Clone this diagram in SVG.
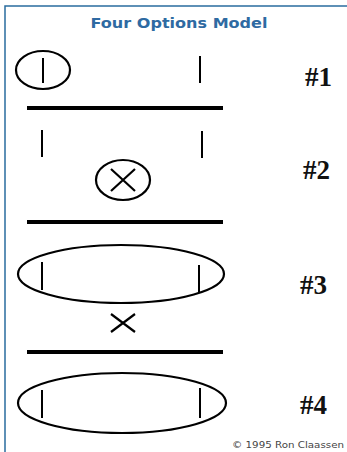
<svg xmlns="http://www.w3.org/2000/svg" width="347" height="452" viewBox="0 0 347 452">
<style>
.frame{stroke:#2a6c9e;stroke-width:1.5;fill:none}
.sh{stroke:#000;stroke-width:2.2;fill:none}
.bar{stroke:#000;stroke-width:4;fill:none}
.tick{stroke:#000;stroke-width:2}
.num{font-family:"Liberation Serif",serif;font-weight:bold;font-size:27px;fill:#111}
</style>
<rect width="347" height="452" fill="#fff"/>
<g id="frame">
<path class="frame" d="M5,452 V6 H347"/>
</g>
<text id="title" x="179" y="28" text-anchor="middle" font-family="DejaVu Sans, sans-serif" font-weight="bold" font-size="14.5" fill="#2e6aa2" textLength="177" lengthAdjust="spacingAndGlyphs">Four Options Model</text>
<g id="option1">
<ellipse class="sh" cx="43" cy="70" rx="27" ry="19"/>
<line class="tick" x1="43" y1="58" x2="43" y2="83"/>
<line class="tick" x1="200" y1="56" x2="200" y2="83"/>
<text class="num" x="305" y="86">#1</text>
</g>
<g id="option2">
<line class="tick" x1="42" y1="130" x2="42" y2="157"/>
<line class="tick" x1="202" y1="131" x2="202" y2="158"/>
<ellipse class="sh" cx="123" cy="180" rx="27" ry="20"/>
<path class="sh" d="M111,169 L135,191 M135,169 L111,191"/>
<text class="num" x="303" y="179">#2</text>
</g>
<g id="option3">
<ellipse class="sh" cx="121" cy="274" rx="103" ry="29"/>
<line class="tick" x1="42" y1="262" x2="42" y2="290"/>
<line class="tick" x1="199" y1="265" x2="199" y2="292"/>
<path class="sh" d="M111,314 L135,332 M135,314 L111,332"/>
<text class="num" x="300" y="294">#3</text>
</g>
<g id="option4">
<ellipse class="sh" cx="122" cy="403" rx="104" ry="30"/>
<line class="tick" x1="42" y1="390" x2="42" y2="418"/>
<line class="tick" x1="200" y1="388" x2="200" y2="418"/>
<text class="num" x="300" y="414">#4</text>
</g>
<g id="connectors">
<line class="bar" x1="27" y1="108" x2="223" y2="108"/>
<line class="bar" x1="27" y1="222" x2="223" y2="222"/>
<line class="bar" x1="27" y1="352" x2="223" y2="352"/>
</g>
<text id="copyright" x="232" y="448" font-family="DejaVu Sans, sans-serif" font-size="9.5" fill="#444" textLength="112" lengthAdjust="spacingAndGlyphs">© 1995 Ron Claassen</text>
</svg>
